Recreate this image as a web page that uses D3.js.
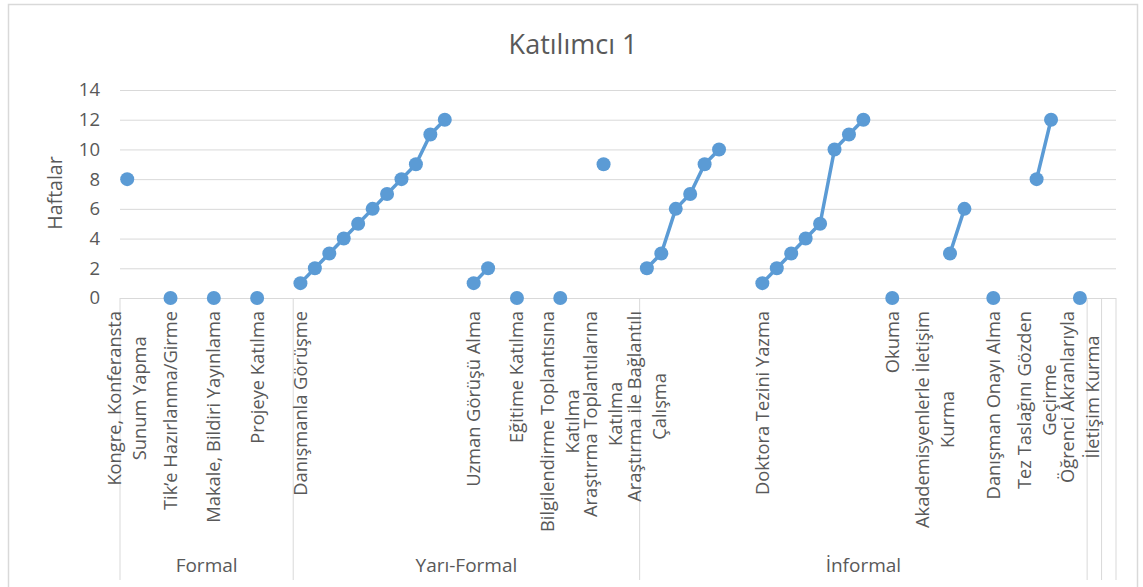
<!DOCTYPE html>
<html lang="tr">
<head>
<meta charset="utf-8">
<title>Katılımcı 1</title>
<script src="https://cdn.jsdelivr.net/npm/d3@7"></script>
<style>
  html, body { margin: 0; padding: 0; background: #ffffff; }
  svg { display: block; font-family: "Open Sans", "Noto Sans", sans-serif; }
</style>
</head>
<body>
<div id="chart"></div>
<script>
// Outer grouping of the activities
const groupNames = ["Formal", "Yarı-Formal", "İnformal", "", ""];

// Activity labels (pre-wrapped lines) and the group each belongs to
const categoryLabels = [
  ["Kongre, Konferansta", "Sunum Yapma"],
  ["Tik’e Hazırlanma/Girme"],
  ["Makale, Bildiri Yayınlama"],
  ["Projeye Katılma"],
  ["Danışmanla Görüşme"],
  ["Uzman Görüşü Alma"],
  ["Eğitime Katılma"],
  ["Bilgilendirme Toplantısına", "Katılma"],
  ["Araştırma Toplantılarına", "Katılma"],
  ["Araştırma ile Bağlantılı", "Çalışma"],
  ["Doktora Tezini Yazma"],
  ["Okuma"],
  ["Akademisyenlerle İletişim", "Kurma"],
  ["Danışman Onayı Alma"],
  ["Tez Taslağını Gözden", "Geçirme"],
  ["Öğrenci Akranlarıyla", "İletişim Kurma"],
  [],
  []
];
const categoryGroup = [0, 0, 0, 0, 1, 1, 1, 1, 1, 2, 2, 2, 2, 2, 2, 2, 3, 4];

// Week numbers recorded under each activity, one row per entry (null = empty row)
const weekValues = [
  [8, null, null],
  [0, null, null],
  [0, null, null],
  [0, null, null],
  [1, 2, 3, 4, 5, 6, 7, 8, 9, 11, 12, null],
  [1, 2, null],
  [0, null, null],
  [0, null, null],
  [9, null, null],
  [2, 3, 6, 7, 9, 10, null, null],
  [1, 2, 3, 4, 5, 10, 11, 12, null],
  [0, null, null],
  [null, 3, 6, null],
  [0, null, null],
  [8, 12, null],
  [0],
  [null],
  [null]
];

const yTicks = [0, 2, 4, 6, 8, 10, 12, 14];
const chartTitle = "Katılımcı 1";
const yTitle = "Haftalar";

// Flatten into sequential rows, remembering where each category starts
const rows = [];
const catStart = [];
weekValues.forEach((vals, c) => {
  catStart.push(rows.length);
  vals.forEach(v => rows.push({ i: rows.length, v: v, cat: c, group: categoryGroup[c] }));
});

const W = 1143, H = 587;
const plot = { left: 120, right: 1116, top: 90, bottom: 298 };
const textColor = "#595959";
const gridColor = "#d9d9d9";
const seriesColor = "#5b9bd5";

const svg = d3.select("#chart").append("svg")
  .attr("width", W).attr("height", H);

// chart frame
svg.append("rect")
  .attr("x", 8.5).attr("y", 4.5)
  .attr("width", 1129).attr("height", 640)
  .attr("fill", "#ffffff")
  .attr("stroke", gridColor).attr("stroke-width", 1.5);

const x = d3.scaleBand()
  .domain(rows.map(r => r.i))
  .range([plot.left, plot.right])
  .paddingInner(0).paddingOuter(0);
const cx = i => x(i) + x.bandwidth() / 2;

const y = d3.scaleLinear().domain([0, 14]).range([plot.bottom, plot.top]);

// title
svg.append("text")
  .attr("x", 573).attr("y", 54)
  .attr("text-anchor", "middle")
  .attr("font-size", 27)
  .attr("fill", textColor)
  .text(chartTitle);

// value axis with gridlines
const yAxis = svg.append("g")
  .attr("transform", `translate(${plot.left},0)`)
  .call(d3.axisLeft(y)
    .tickValues(yTicks)
    .tickSize(-(plot.right - plot.left))
    .tickPadding(20));
yAxis.select(".domain").remove();
yAxis.selectAll(".tick line").attr("stroke", gridColor).attr("stroke-width", 1);
yAxis.selectAll(".tick text")
  .attr("fill", textColor)
  .attr("font-size", 18.5)
  .attr("font-family", "'Open Sans', 'Noto Sans', sans-serif");

// value axis title
svg.append("text")
  .attr("transform", `translate(62,193) rotate(-90)`)
  .attr("text-anchor", "middle")
  .attr("font-size", 19.5)
  .attr("fill", textColor)
  .text(yTitle);

// group separators down through the category area
const groupStarts = [];
rows.forEach((r, k) => { if (k === 0 || rows[k - 1].group !== r.group) groupStarts.push(r.i); });
const sepX = groupStarts.map(i => x(i)).concat([plot.right]);
svg.append("g").selectAll("line")
  .data(sepX)
  .join("line")
  .attr("x1", d => d).attr("x2", d => d)
  .attr("y1", plot.bottom).attr("y2", 580)
  .attr("stroke", gridColor).attr("stroke-width", 1);

// category labels, rotated, lines centred on each other
const lineGap = 25;
const catG = svg.append("g")
  .attr("font-size", 18.3)
  .attr("fill", textColor);
categoryLabels.forEach((lines, c) => {
  if (!lines.length) return;
  const g = catG.append("g")
    .attr("transform", `translate(${cx(catStart[c])},311) rotate(-90)`);
  const texts = lines.map((ln, k) => g.append("text")
    .attr("text-anchor", "middle")
    .attr("y", (k - (lines.length - 1) / 2) * lineGap)
    .attr("dy", "0.35em")
    .text(ln));
  const maxLen = d3.max(texts, t => t.node().getComputedTextLength());
  texts.forEach(t => t.attr("x", -maxLen / 2));
});

// group labels
const groupRange = groupNames.map((name, gi) => {
  const members = rows.filter(r => r.group === gi);
  return { name, x0: x(members[0].i), x1: x(members[members.length - 1].i) + x.bandwidth() };
});
svg.append("g").selectAll("text")
  .data(groupRange.filter(d => d.name))
  .join("text")
  .attr("x", d => (d.x0 + d.x1) / 2)
  .attr("y", 572)
  .attr("text-anchor", "middle")
  .attr("font-size", 19)
  .attr("fill", textColor)
  .text(d => d.name);

// series line, broken at empty rows
const line = d3.line()
  .defined(d => d.v != null)
  .x(d => cx(d.i))
  .y(d => y(d.v));
svg.append("path")
  .datum(rows)
  .attr("d", line)
  .attr("fill", "none")
  .attr("stroke", seriesColor)
  .attr("stroke-width", 3.5)
  .attr("stroke-linejoin", "round");

// markers
svg.append("g").selectAll("circle")
  .data(rows.filter(d => d.v != null))
  .join("circle")
  .attr("cx", d => cx(d.i))
  .attr("cy", d => y(d.v))
  .attr("r", 7)
  .attr("fill", seriesColor);
</script>
</body>
</html>
